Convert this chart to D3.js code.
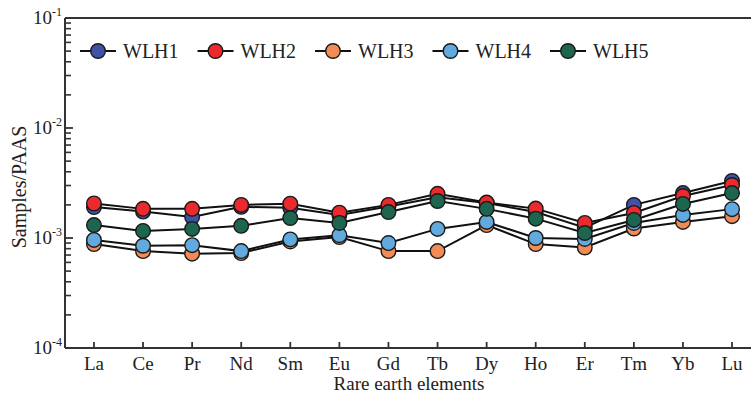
<!DOCTYPE html>
<html><head><meta charset="utf-8">
<script src="https://cdn.jsdelivr.net/npm/d3@7"></script>
<style>body{margin:0;background:#fff}svg{display:block}text{font-family:"Liberation Serif","Times New Roman",Times,serif;fill:#222}</style>
</head><body><div id="chart"></div>
<script>
const elements = ["La","Ce","Pr","Nd","Sm","Eu","Gd","Tb","Dy","Ho","Er","Tm","Yb","Lu"];
const seriesNames = ["WLH1","WLH2","WLH3","WLH4","WLH5"];
const seriesColors = ["#3f52a6","#ec2a2e","#f28b55","#62a9de","#1e6550"];
const WLH1 = [1.91e-3,1.74e-3,1.55e-3,1.92e-3,1.88e-3,1.62e-3,1.93e-3,2.35e-3,2.08e-3,1.72e-3,1.24e-3,2.00e-3,2.56e-3,3.30e-3];
const WLH2 = [2.06e-3,1.84e-3,1.84e-3,2.00e-3,2.05e-3,1.70e-3,2.00e-3,2.52e-3,2.10e-3,1.85e-3,1.37e-3,1.69e-3,2.41e-3,3.03e-3];
const WLH3 = [0.88e-3,0.76e-3,0.72e-3,0.73e-3,0.93e-3,1.02e-3,0.76e-3,0.76e-3,1.31e-3,0.88e-3,0.82e-3,1.22e-3,1.40e-3,1.58e-3];
const WLH4 = [0.96e-3,0.85e-3,0.86e-3,0.76e-3,0.97e-3,1.06e-3,0.90e-3,1.21e-3,1.40e-3,1.00e-3,0.98e-3,1.37e-3,1.62e-3,1.83e-3];
const WLH5 = [1.31e-3,1.16e-3,1.21e-3,1.29e-3,1.52e-3,1.37e-3,1.72e-3,2.17e-3,1.84e-3,1.50e-3,1.11e-3,1.46e-3,2.04e-3,2.56e-3];
const seriesValues = [WLH1,WLH2,WLH3,WLH4,WLH5];
const yTickValues = [1e-4,1e-3,1e-2,1e-1];
const yTickExps = ["-4","-3","-2","-1"];
const yLabel = "Samples/PAAS";
const xLabel = "Rare earth elements";

const W = 751, H = 394;
const mLeft = 65, mRight = 761, mTop = 18, mBottom = 348;
const svg = d3.select("#chart").append("svg").attr("width", W).attr("height", H);

const x = d3.scalePoint().domain(elements).range([mLeft, mRight]).padding(0.59);
const y = d3.scaleLog().domain([1e-4, 1e-1]).range([mBottom, mTop]);

const axisColor = "#333";
svg.append("line").attr("x1", mLeft).attr("x2", mLeft).attr("y1", mTop).attr("y2", mBottom).attr("stroke", axisColor).attr("stroke-width", 2);
svg.append("line").attr("x1", mLeft).attr("x2", W).attr("y1", mBottom).attr("y2", mBottom).attr("stroke", axisColor).attr("stroke-width", 2);
svg.append("line").attr("x1", mLeft).attr("x2", W).attr("y1", mTop).attr("y2", mTop).attr("stroke", axisColor).attr("stroke-width", 2);

const minor = [];
for (let e = -4; e < -1; e++) for (let m = 2; m <= 9; m++) minor.push(m * Math.pow(10, e));
svg.append("g").selectAll("line").data(minor).join("line")
  .attr("x1", mLeft).attr("x2", mLeft + 6).attr("y1", d => y(d)).attr("y2", d => y(d))
  .attr("stroke", axisColor).attr("stroke-width", 1.6);
svg.append("g").selectAll("line").data(yTickValues).join("line")
  .attr("x1", mLeft).attr("x2", mLeft + 8).attr("y1", d => y(d)).attr("y2", d => y(d))
  .attr("stroke", axisColor).attr("stroke-width", 1.8);
const yl = svg.append("g").selectAll("text").data(yTickValues).join("text")
  .attr("x", mLeft - 3).attr("y", d => y(d) + 6).attr("text-anchor", "end").style("font-size", "19px");
yl.append("tspan").text("10");
yl.append("tspan").attr("dy", -8).style("font-size", "12px").text((d, i) => yTickExps[i]);

svg.append("g").selectAll("line").data(elements).join("line")
  .attr("x1", d => x(d)).attr("x2", d => x(d)).attr("y1", mBottom).attr("y2", mBottom - 6)
  .attr("stroke", axisColor).attr("stroke-width", 1.8);
svg.append("g").selectAll("text").data(elements).join("text")
  .attr("x", d => x(d)).attr("y", 370).attr("text-anchor", "middle").style("font-size", "19px").text(d => d);

svg.append("text").attr("x", 409).attr("y", 390).attr("text-anchor", "middle").style("font-size", "19px").text(xLabel);
svg.append("text").attr("transform", "translate(26,187) rotate(-90)").attr("text-anchor", "middle").style("font-size", "20px").text(yLabel);

const line = d3.line().x((d, i) => x(elements[i])).y(d => y(d));
svg.append("g").selectAll("path").data(seriesValues).join("path")
  .attr("d", d => line(d)).attr("fill", "none").attr("stroke", "#111").attr("stroke-width", 2);

seriesValues.forEach((vals, si) => {
  svg.append("g").selectAll("circle").data(vals).join("circle")
    .attr("cx", (d, i) => x(elements[i])).attr("cy", d => y(d)).attr("r", 7.3)
    .attr("fill", seriesColors[si]).attr("stroke", "#1a1a1a").attr("stroke-width", 1.4);
});

const lg = svg.append("g");
seriesNames.forEach((name, i) => {
  const cx = 98 + i * 117.5, cy = 51;
  lg.append("line").attr("x1", cx - 18).attr("x2", cx + 18).attr("y1", cy).attr("y2", cy).attr("stroke", "#111").attr("stroke-width", 2);
  lg.append("circle").attr("cx", cx).attr("cy", cy).attr("r", 7.3).attr("fill", seriesColors[i]).attr("stroke", "#1a1a1a").attr("stroke-width", 1.4);
  lg.append("text").attr("x", cx + 25).attr("y", cy + 7).style("font-size", "20px").text(name);
});
</script></body></html>
